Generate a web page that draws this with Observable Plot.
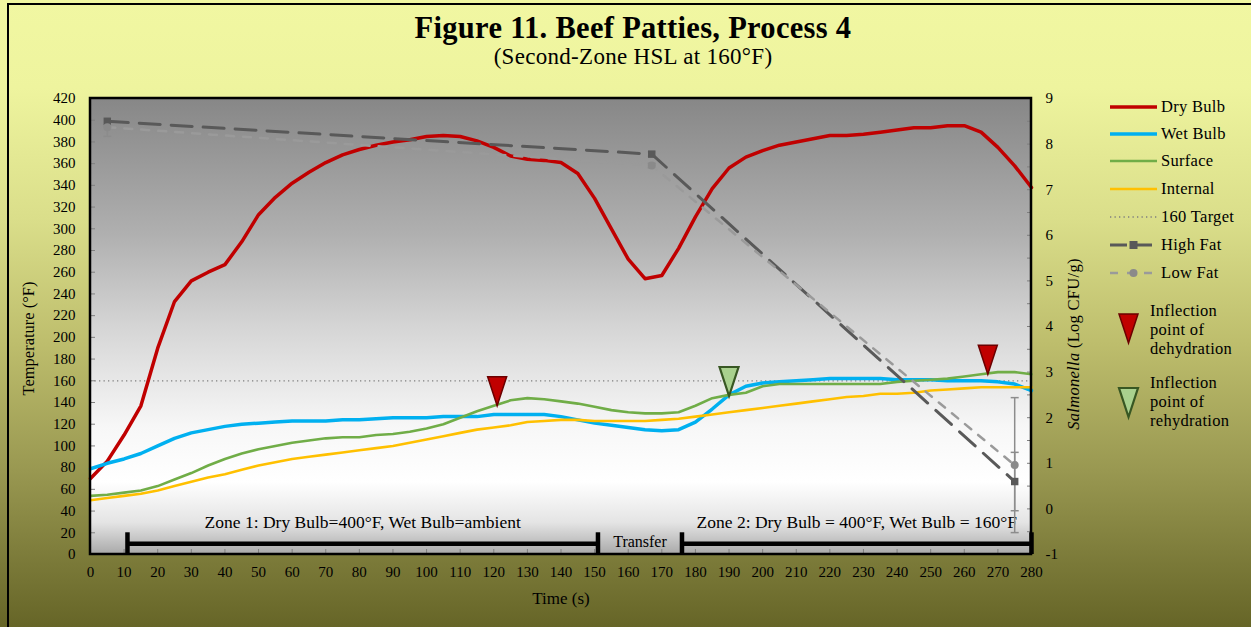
<!DOCTYPE html>
<html>
<head>
<meta charset="utf-8">
<script src="https://cdn.jsdelivr.net/npm/d3@7"></script>
<script src="https://cdn.jsdelivr.net/npm/@observablehq/plot@0.6"></script>
<style>
  body { margin: 0; }
  #wrap {
    position: relative; width: 1251px; height: 627px; overflow: hidden;
    font-family: "Liberation Serif", "Times New Roman", serif; color: #000;
    background: linear-gradient(to bottom, #F1F7A2 0%, #EEF49E 14%, #DADE8A 35%, #BDBD6C 55%, #999851 75%, #7A7938 90%, #666527 100%);
  }
  #border { position: absolute; left: 7px; top: 3px; right: 0; bottom: 0; border-top: 2px solid #000; border-left: 2px solid #000; pointer-events: none; }
  #title { position: absolute; left: 0; width: 1266px; top: 15px; text-align: center; font-weight: bold; font-size: 30.5px; line-height: 0.9; letter-spacing: 0.3px; }
  #subtitle { position: absolute; left: 0; width: 1266px; top: 47px; text-align: center; font-size: 23px; line-height: 0.9; letter-spacing: 0.3px; }
  #chart { position: absolute; left: 0; top: 0; }
  .leg { position: absolute; font-size: 16.5px; line-height: 19px; white-space: nowrap; letter-spacing: 0.3px; }
  #ylab2 { position: absolute; left: 1074px; top: 344px; transform: translate(-50%, -50%) rotate(-90deg); font-size: 16.5px; white-space: nowrap; letter-spacing: 0.3px; }
  #legsw { position: absolute; left: 0; top: 0; }
</style>
</head>
<body>
<div id="wrap">
  <div id="title">Figure 11. Beef Patties, Process 4</div>
  <div id="subtitle">(Second-Zone HSL at 160°F)</div>
  <div id="chart"></div>
  <div id="ylab2"><i>Salmonella</i> (Log CFU/g)</div>
  <div id="legend"></div>
  <div id="border"></div>
</div>
<script>
// ---------------- data ----------------
const time = [0,5,10,15,20,25,30,35,40,45,50,55,60,65,70,75,80,85,90,95,100,105,110,115,120,125,130,135,140,145,150,155,160,165,170,175,180,185,190,195,200,205,210,215,220,225,230,235,240,245,250,255,260,265,270,275,280];
const dryBulb = [70,86,110,137,190,233,252,260,267,288,313,329,342,352,361,368,373,377,380,382,385,386,385,381,375,367,364,363,361,351,328,300,272,254,257,282,311,337,356,366,372,377,380,383,386,386,387,389,391,393,393,395,395,389,375,358,338];
const wetBulb = [79,84,88,93,100,107,112,115,118,120,121,122,123,123,123,124,124,125,126,126,126,127,127,127,129,129,129,129,127,124,121,119,117,115,114,115,122,134,147,155,158,159,160,161,162,162,162,162,161,161,161,160,160,160,159,157,151];
const surface = [54,55,57,59,63,69,75,82,88,93,97,100,103,105,107,108,108,110,111,113,116,120,126,132,137,142,144,143,141,139,136,133,131,130,130,131,137,144,147,149,155,157,157,157,157,157,157,157,159,160,161,162,164,166,168,168,166];
const internal = [50,52,54,56,59,63,67,71,74,78,82,85,88,90,92,94,96,98,100,103,106,109,112,115,117,119,122,123,124,124,123,123,123,123,124,125,127,129,131,133,135,137,139,141,143,145,146,148,148,149,151,152,153,154,154,154,154];

const target = 160;

// Salmonella (Log CFU/g)
const salTime = [5, 167, 275];
const highFat = [8.5, 7.78, 0.6];
const lowFat = [8.37, 7.53, 0.96];
const highFatErr = [0.1, 0.05, 0.64];
const lowFatErr = [0.2, 0.05, 1.48];

// inflection points
const dehydTime = [121, 267];
const dehydTemp = [137, 166];
const rehydTime = [190];
const rehydTemp = [146];

// zones
const zoneNames = ["Zone 1: Dry Bulb=400°F, Wet Bulb=ambient", "Zone 2: Dry Bulb = 400°F, Wet Bulb = 160°F"];
const zoneStart = [11, 176];
const zoneEnd = [151, 280];
const transferName = "Transfer";

// ticks
const xTicks = [0,10,20,30,40,50,60,70,80,90,100,110,120,130,140,150,160,170,180,190,200,210,220,230,240,250,260,270,280];
const yTicks = [0,20,40,60,80,100,120,140,160,180,200,220,240,260,280,300,320,340,360,380,400,420];
const y2Ticks = [-1,0,1,2,3,4,5,6,7,8,9];
const y2Minor = [-1,-0.5,0,0.5,1,1.5,2,2.5,3,3.5,4,4.5,5,5.5,6,6.5,7,7.5,8,8.5,9];

// ---------------- helpers ----------------
const logToT = v => (v + 1) * 42;      // right axis -1..9 mapped onto 0..420
const tToLog = T => T / 42 - 1;

const C = {dry: "#C00000", wet: "#00B0F0", surf: "#70AD47", int: "#FFC000", high: "#595959", low: "#9a9a9a"};

const rows = time.map((t, i) => ({t, dry: dryBulb[i], wet: wetBulb[i], surf: surface[i], int: internal[i]}));
const sal = salTime.map((t, i) => ({
  t,
  high: logToT(highFat[i]), low: logToT(lowFat[i]),
  hLo: logToT(highFat[i] - highFatErr[i]), hHi: logToT(highFat[i] + highFatErr[i]),
  lLo: logToT(lowFat[i] - lowFatErr[i]), lHi: logToT(lowFat[i] + lowFatErr[i])
}));
const dehyd = dehydTime.map((t, i) => ({t, T: dehydTemp[i]}));
const rehyd = rehydTime.map((t, i) => ({t, T: rehydTemp[i]}));
const zones = zoneNames.map((name, i) => ({name, start: zoneStart[i], end: zoneEnd[i], mid: (zoneStart[i] + zoneEnd[i]) / 2}));
const caps = zoneStart.concat(zoneEnd);
const transfer = [{name: transferName, mid: (zoneEnd[0] + zoneStart[1]) / 2}];

const downTri = {draw(ctx) { ctx.moveTo(0, 0); ctx.lineTo(-9.5, -29); ctx.lineTo(9.5, -29); ctx.closePath(); }};
const capSym = {draw(ctx) { ctx.moveTo(-4, 0); ctx.lineTo(4, 0); }};

const plot = Plot.plot({
  width: 1251, height: 627,
  marginTop: 98, marginBottom: 73, marginLeft: 90, marginRight: 220,
  style: {background: "transparent", fontFamily: "Liberation Serif, Times New Roman, serif", fontSize: "15px", color: "black"},
  x: {domain: [0, 280], label: null},
  y: {domain: [0, 420], label: null},
  marks: [
    Plot.frame({fill: "url(#plotGrad)", stroke: "none"}),
    // inner ticks
    Plot.axisY(yTicks, {anchor: "left", tickSize: 5, dx: 5, tickFormat: () => "", stroke: "#7f7f7f", label: null}),
    Plot.axisY(y2Minor.map(logToT), {anchor: "right", tickSize: 5, dx: -5, tickFormat: () => "", stroke: "#7f7f7f", label: null}),
    Plot.axisX(xTicks, {anchor: "bottom", tickSize: 5, dy: -5, tickFormat: () => "", stroke: "#7f7f7f", label: null}),
    // tick labels
    Plot.axisY(yTicks, {anchor: "left", tickSize: 0, tickPadding: 15, fontSize: 15, label: null}),
    Plot.axisY(y2Ticks.map(logToT), {anchor: "right", tickSize: 0, tickPadding: 14, fontSize: 15, tickFormat: d => Math.round(tToLog(d)), label: null}),
    Plot.axisX(xTicks, {anchor: "bottom", tickSize: 0, tickPadding: 12, fontSize: 15, label: null}),
    // axis titles
    Plot.text(["Temperature (°F)"], {text: d => d, frameAnchor: "left", textAnchor: "middle", lineAnchor: "middle", dx: -62, dy: 12, rotate: -90, fontSize: 16.5}),
    Plot.text(["Time (s)"], {text: d => d, frameAnchor: "bottom", textAnchor: "middle", lineAnchor: "middle", dy: 44, fontSize: 17}),
    // target
    Plot.ruleY([target], {stroke: "#7f7f7f", strokeWidth: 1.3, strokeDasharray: "1.3,3.2"}),
    // zones
    Plot.ruleY(zones, {y: 10, x1: "start", x2: "end", stroke: "black", strokeWidth: 4.5}),
    Plot.ruleX(caps, {x: d => d, y1: 0, y2: 20, stroke: "black", strokeWidth: 4.5}),
    Plot.text(zones, {x: "mid", y: 10, text: "name", dy: -21, fontSize: 17.5}),
    Plot.text(transfer, {x: "mid", y: 10, text: "name", dy: -2, fontSize: 16}),
    // temperature lines
    Plot.line(rows, {x: "t", y: "dry", stroke: C.dry, strokeWidth: 3.5}),
    Plot.line(rows, {x: "t", y: "wet", stroke: C.wet, strokeWidth: 3.5}),
    Plot.line(rows, {x: "t", y: "surf", stroke: C.surf, strokeWidth: 2.6}),
    Plot.line(rows, {x: "t", y: "int", stroke: C.int, strokeWidth: 2.6}),
    // salmonella
    Plot.ruleX(sal, {x: "t", y1: "lLo", y2: "lHi", stroke: "#8c8c8c", strokeWidth: 1.5}),
    Plot.ruleX(sal, {x: "t", y1: "hLo", y2: "hHi", stroke: "#8c8c8c", strokeWidth: 1.5}),
    Plot.dot(sal, {x: "t", y: "lLo", symbol: capSym, stroke: "#8c8c8c", strokeWidth: 1.5}),
    Plot.dot(sal, {x: "t", y: "lHi", symbol: capSym, stroke: "#8c8c8c", strokeWidth: 1.5}),
    Plot.dot(sal, {x: "t", y: "hLo", symbol: capSym, stroke: "#8c8c8c", strokeWidth: 1.5}),
    Plot.dot(sal, {x: "t", y: "hHi", symbol: capSym, stroke: "#8c8c8c", strokeWidth: 1.5}),
    Plot.line(sal, {x: "t", y: "high", stroke: C.high, strokeWidth: 3, strokeDasharray: "21,11"}),
    Plot.line(sal, {x: "t", y: "low", stroke: C.low, strokeWidth: 2.5, strokeDasharray: "8,9"}),
    Plot.dot(sal, {x: "t", y: "high", symbol: "square", r: 4.2, fill: C.high, stroke: "none"}),
    Plot.dot(sal, {x: "t", y: "low", symbol: "circle", r: 4, fill: "#8a8a8a", stroke: "none"}),
    // inflection markers
    Plot.dot(dehyd, {x: "t", y: "T", symbol: downTri, fill: "#C00000", stroke: "#6B0000", strokeWidth: 1.5}),
    Plot.dot(rehyd, {x: "t", y: "T", symbol: downTri, fill: "#A9D18E", stroke: "#385723", strokeWidth: 2.2})
  ]
});

d3.select(plot).insert("defs", ":first-child").html(`
  <linearGradient id="plotGrad" x1="0" y1="0" x2="0" y2="1">
    <stop offset="0" stop-color="#878787"/>
    <stop offset="0.12" stop-color="#979797"/>
    <stop offset="0.3" stop-color="#b0b0b0"/>
    <stop offset="0.5" stop-color="#d5d5d5"/>
    <stop offset="0.72" stop-color="#f7f7f7"/>
    <stop offset="0.84" stop-color="#ffffff"/>
    <stop offset="0.93" stop-color="#e4e4e4"/>
    <stop offset="1" stop-color="#a8a8a8"/>
  </linearGradient>`);
// plot border (axes lines)
const fb = {x1: 90, y1: 98, x2: 1031, y2: 554};
d3.select(plot).append("rect").attr("x", fb.x1).attr("y", fb.y1).attr("width", fb.x2 - fb.x1).attr("height", fb.y2 - fb.y1)
  .attr("fill", "none").attr("stroke", "#000").attr("stroke-width", 2.5);
document.getElementById("chart").appendChild(plot);

// ---------------- legend ----------------
const legendItems = [
  {label: "Dry Bulb", color: C.dry, w: 3.5, dash: null, sym: null},
  {label: "Wet Bulb", color: C.wet, w: 3.5, dash: null, sym: null},
  {label: "Surface", color: C.surf, w: 2.6, dash: null, sym: null},
  {label: "Internal", color: C.int, w: 2.6, dash: null, sym: null},
  {label: "160 Target", color: "#7f7f7f", w: 1.3, dash: "1.3,3.2", sym: null},
  {label: "High Fat", color: C.high, w: 3, dash: "17,8", sym: "square"},
  {label: "Low Fat", color: C.low, w: 2.5, dash: "8,9", sym: "circle"}
];
const legY = [107, 134, 161, 189, 217, 245, 273];
let sw = `<svg id="legsw" width="1251" height="627">`;
let html = "";
legendItems.forEach((it, i) => {
  const y = legY[i];
  sw += `<line x1="1110" x2="1157" y1="${y}" y2="${y}" stroke="${it.color}" stroke-width="${it.w}" ${it.dash ? `stroke-dasharray="${it.dash}"` : ""}/>`;
  if (it.sym === "square") sw += `<rect x="${1133.5 - 4}" y="${y - 4}" width="8" height="8" fill="${it.color}"/>`;
  if (it.sym === "circle") sw += `<circle cx="1133.5" cy="${y}" r="4" fill="#8a8a8a"/>`;
  html += `<div class="leg" style="left:1161px;top:${y - 10}px">${it.label}</div>`;
});
sw += `<path d="M1128.5,343 L1119,314 L1138,314 Z" fill="#C00000" stroke="#6B0000" stroke-width="1.5"/>`;
sw += `<path d="M1128.5,417 L1119,388 L1138,388 Z" fill="#A9D18E" stroke="#385723" stroke-width="2.2"/>`;
sw += `</svg>`;
html += `<div class="leg" style="left:1150px;top:301px">Inflection<br>point of<br>dehydration</div>`;
html += `<div class="leg" style="left:1150px;top:373px">Inflection<br>point of<br>rehydration</div>`;
document.getElementById("legend").innerHTML = sw + html;
</script>
</body>
</html>
